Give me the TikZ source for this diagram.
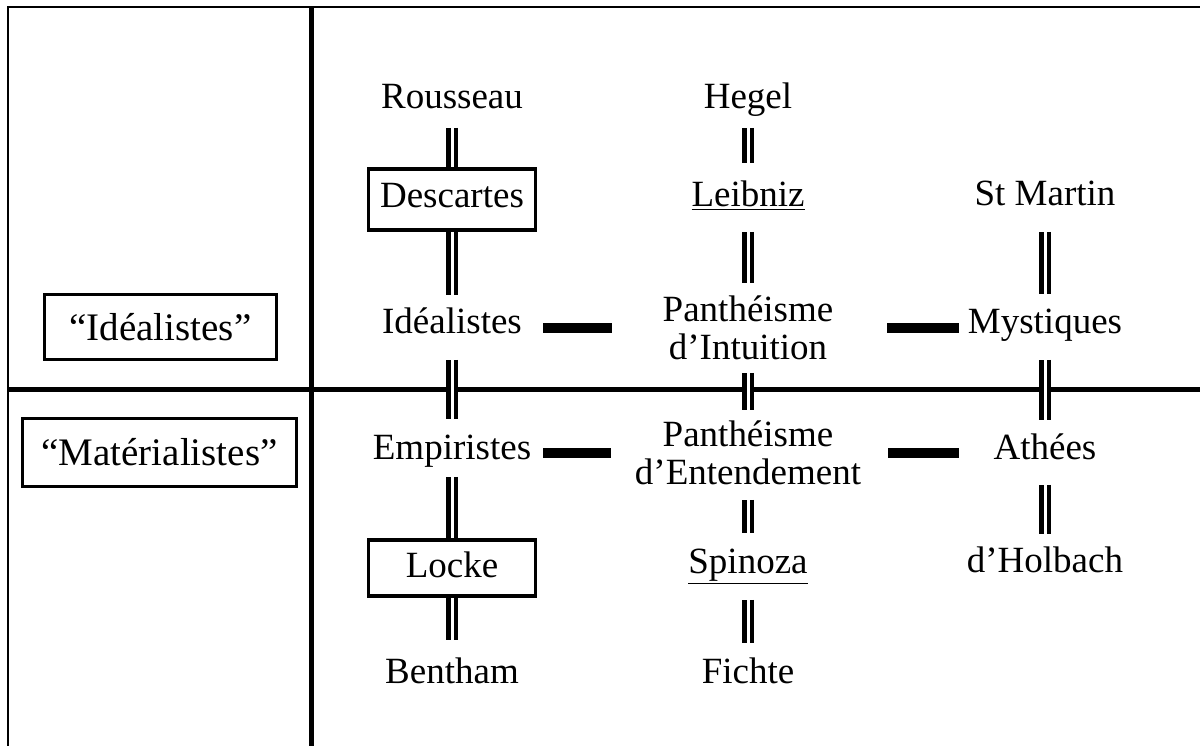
\documentclass[tikz,border=0pt]{standalone}
\usepackage{fontspec}
\setmainfont{Liberation Serif}
\usepackage{xcolor}
\usepackage{tikz}
\definecolor{inkline}{gray}{0}

\begin{document}
\begin{tikzpicture}[x=1pt,y=1pt,
  lbl/.style={anchor=base,inner sep=0pt,font=\fontsize{37}{38}\selectfont},
  twoline/.style={align=center,inner sep=0pt,font=\fontsize{37}{38}\selectfont},
  boxed/.style={draw=inkline,line width=3.8pt,inner sep=0pt,
    font=\fontsize{37}{38}\selectfont},
  sidebox/.style={boxed,font=\fontsize{39}{40}\selectfont},
  dbar/.style={draw=inkline,double=white,line width=4.2pt,double distance=3pt},
  hbar/.style={draw=inkline,line width=10pt}]
  \useasboundingbox (0,0) rectangle (1200,746);
  \fill[white] (0,0) rectangle (1200,746);

  % frame and dividers
  \draw[inkline,line width=2.6pt] (8,0) -- (8,739) -- (1200,739);
  \draw[inkline,line width=4.6pt] (311.5,0) -- (311.5,740);
  \draw[inkline,line width=4.6pt] (8,356.5) -- (1200,356.5);

  \node[sidebox,minimum width=232,minimum height=65] (labidea) at (160.5,419)
    {“Idéalistes”};
  \node[sidebox,minimum width=274,minimum height=68] (labmat) at (159.5,293.5)
    {“Matérialistes”};

  \node[lbl] (rousseau) at (452,637) {Rousseau};
  \node[lbl] (hegel) at (748,637) {Hegel};

  \node[boxed,anchor=base,minimum width=167,text height=39.2pt,
    text depth=22.2pt] (descartes) at (452,538) {Descartes};
  \node[lbl] (leibniz) at (748,539) {\underline{Leibniz}};
  \node[lbl] (stmartin) at (1045,540) {St Martin};

  \node[lbl] (idealistes) at (452,412) {Idéalistes};
  \node[twoline] (intuition) at (748,418) {Panthéisme\\d’Intuition};
  \node[lbl] (mystiques) at (1045,412) {Mystiques};

  \node[lbl] (empiristes) at (452,286) {Empiristes};
  \node[twoline] (entendement) at (748,293) {Panthéisme\\d’Entendement};
  \node[lbl] (athees) at (1045,286) {Athées};

  \node[boxed,anchor=base,minimum width=167,text height=38.2pt,
    text depth=18.2pt] (locke) at (452,168) {Locke};
  \node[lbl] (spinoza) at (748,172) {\underline{Spinoza}};
  \node[lbl] (holbach) at (1045,173) {d’Holbach};

  \node[lbl] (bentham) at (452,62) {Bentham};
  \node[lbl] (fichte) at (748,62) {Fichte};

  % double links down each column
  \foreach \a/\b/\s/\e in {
    rousseau.base/descartes.north/19/0, descartes.south/idealistes.base/0/39,
    idealistes.base/empiristes.base/26/41, empiristes.base/locke.north/17/0,
    locke.south/bentham.base/0/44,
    hegel.base/leibniz.base/19/44, leibniz.base/intuition.center/25/45,
    intuition.center/entendement.center/45/43,
    entendement.center/spinoza.base/47/41, spinoza.base/fichte.base/26/41,
    stmartin.base/mystiques.base/26/40, mystiques.base/athees.base/26/40,
    athees.base/holbach.base/25/39} {
    \draw[dbar,shorten <=\s pt,shorten >=\e pt] (\a) -- (\b);
  }

  % thick links across each row
  \foreach \a/\b/\r/\s/\e in {
    idealistes/intuition/intuition/91/136, intuition/mystiques/intuition/139/86,
    empiristes/entendement/entendement/91/137,
    entendement/athees/entendement/140/86} {
    \draw[hbar,shorten <=\s pt,shorten >=\e pt]
      (\a.center |- \r.center) -- (\b.center |- \r.center);
  }
\end{tikzpicture}
\end{document}
